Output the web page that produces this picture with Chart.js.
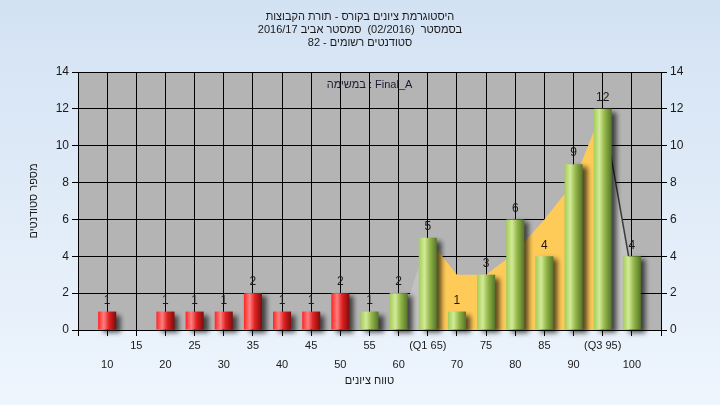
<!DOCTYPE html>
<html>
<head>
<meta charset="utf-8">
<script src="https://cdn.jsdelivr.net/npm/chart.js@4.4.1/dist/chart.umd.min.js"></script>
<style>
html,body{margin:0;padding:0;background:#e2edf8;}
#wrap{width:720px;height:405px;position:relative;}
</style>
</head>
<body>
<div id="wrap"><canvas id="c" width="720" height="405"></canvas></div>
<script>
// ---- data ----
const titleLines = [
  'היסטוגרמת ציונים בקורס - תורת הקבוצות',
  'בסמסטר  (02/2016)  סמסטר אביב 2016/17',
  'סטודנטים רשומים - 82'
];
const subTitle = 'במשימה : Final_A';
const xAxisTitle = 'טווח ציונים';
const yAxisTitle = 'מספר סטודנטים';

const categories = [10,15,20,25,30,35,40,45,50,55,60,65,70,75,80,85,90,95,100];
const counts     = [1, 0, 1, 1, 1, 2, 1, 1, 2, 1, 2, 5, 1, 3, 6, 4, 9, 12, 4];
const xTickLabels = ['10','15','20','25','30','35','40','45','50','55','60','(Q1 65)','70','75','80','85','90','(Q3 95)','100'];

const areaX = [60, 65, 70, 75, 80, 85, 90, 95, 100];
const areaY = [0, 5, 3, 3, 4.2, 6, 8, 12, 3];

const Q1 = 65, Q3 = 95, PASS = 55;
const X_MIN = 5, X_MAX = 105, X_STEP = 5;
const Y_MIN = 0, Y_MAX = 14, Y_STEP = 2;

// ---- styling ----
const FONT = 'Arial, "Liberation Sans", "DejaVu Sans", sans-serif';
const BAR_PCT = 0.62;
Chart.defaults.font.family = FONT;
Chart.defaults.color = '#1a1a1a';

function barGradient(c) {
  const chart = c.chart;
  const i = c.dataIndex;
  const pass = categories[i] >= PASS;
  const base = pass ? '#98bf50' : '#e82020';
  if (!chart.chartArea || c.type !== 'data') return base;
  const xs = chart.scales.x;
  const cx = xs.getPixelForValue(categories[i]);
  const w = Math.abs(xs.getPixelForValue(X_STEP) - xs.getPixelForValue(0)) * BAR_PCT;
  const g = chart.ctx.createLinearGradient(cx - w / 2, 0, cx + w / 2, 0);
  if (pass) {
    g.addColorStop(0, '#a4cc58');
    g.addColorStop(0.32, '#d2ea98');
    g.addColorStop(0.6, '#94b84a');
    g.addColorStop(1, '#56742a');
  } else {
    g.addColorStop(0, '#ff2424');
    g.addColorStop(0.32, '#ff8080');
    g.addColorStop(0.6, '#e02222');
    g.addColorStop(1, '#7e0c0c');
  }
  return g;
}

const bgPlugin = {
  id: 'bg',
  beforeDraw(chart) {
    const {ctx, width, height, chartArea: a} = chart;
    ctx.save();
    const g = ctx.createLinearGradient(0, 0, 0, height);
    g.addColorStop(0, '#d3e2f3');
    g.addColorStop(1, '#eef5fd');
    ctx.fillStyle = g;
    ctx.fillRect(0, 0, width, height);
    ctx.fillStyle = '#b4b4b4';
    ctx.fillRect(a.left, a.top, a.right - a.left, a.bottom - a.top);
    // titles
    ctx.fillStyle = '#1a1a1a';
    ctx.font = '11px ' + FONT;
    ctx.textAlign = 'center';
    ctx.textBaseline = 'middle';
    titleLines.forEach((t, k) => ctx.fillText(t, width / 2, 17 + k * 13));
    ctx.restore();
  },
  beforeDatasetsDraw(chart) {
    const {ctx, chartArea: a} = chart;
    ctx.save();
    ctx.fillStyle = '#1c1830';
    ctx.font = '11px ' + FONT;
    ctx.textAlign = 'center';
    ctx.textBaseline = 'middle';
    ctx.fillText(subTitle, (a.left + a.right) / 2, a.top + 13);
    ctx.restore();
  },
  beforeDatasetDraw(chart, args) {
    if (args.index === 1) {
      const ctx = chart.ctx;
      ctx.save();
      ctx.shadowColor = 'rgba(0,0,0,0.65)';
      ctx.shadowBlur = 5;
      ctx.shadowOffsetX = 5;
      ctx.shadowOffsetY = 3;
    }
  },
  afterDatasetDraw(chart, args) {
    if (args.index === 1) chart.ctx.restore();
  },
  afterDatasetsDraw(chart) {
    const {ctx} = chart;
    const meta = chart.getDatasetMeta(1);
    ctx.save();
    ctx.fillStyle = '#1a1a1a';
    ctx.font = '12px ' + FONT;
    ctx.textAlign = 'center';
    ctx.textBaseline = 'bottom';
    meta.data.forEach((el, i) => {
      if (counts[i] > 0) ctx.fillText(String(counts[i]), el.x, el.y - 5);
    });
    ctx.restore();
  }
};

const inIQR = (c) => c.p0.parsed.x >= Q1 && c.p1.parsed.x <= Q3;

new Chart(document.getElementById('c'), {
  type: 'bar',
  data: {
    datasets: [
      {
        type: 'line',
        data: areaX.map((x, i) => ({x, y: areaY[i]})),
        fill: 'origin',
        order: 2,
        pointRadius: 0,
        tension: 0,
        borderWidth: 1.5,
        borderColor: 'rgba(0,0,0,0)',
        backgroundColor: '#c4c4c4',
        segment: {
          backgroundColor: c => inIQR(c) ? '#ffcb58' : '#c2c2c2',
          borderColor: c => c.p0.parsed.x >= Q3 ? '#3a3a3a' : 'rgba(0,0,0,0)'
        }
      },
      {
        type: 'bar',
        data: categories.map((x, i) => ({x, y: counts[i]})),
        order: 1,
        clip: false,
        backgroundColor: barGradient,
        borderWidth: 0,
        categoryPercentage: 1,
        barPercentage: BAR_PCT
      }
    ]
  },
  options: {
    responsive: false,
    animation: false,
    devicePixelRatio: 1,
    layout: {padding: {top: 72, left: 0, right: 0, bottom: 0}},
    plugins: {legend: {display: false}, tooltip: {enabled: false}, title: {display: false}},
    scales: {
      x: {
        type: 'linear',
        min: X_MIN, max: X_MAX,
        offset: false,
        afterFit: s => { s.height = 75; },
        grid: {color: '#000', lineWidth: 1, tickLength: 6, offset: false, tickColor: '#000'},
        border: {color: '#000'},
        ticks: {
          stepSize: X_STEP,
          autoSkip: false,
          maxRotation: 0, minRotation: 0,
          padding: 1,
          font: {size: 11, lineHeight: 1.7},
          color: '#1a1a1a',
          callback: v => {
            const i = categories.indexOf(v);
            if (i < 0) return '';
            const lbl = xTickLabels[i];
            return (Math.round(v / X_STEP) % 2 === 0) ? ['', lbl] : [lbl, ''];
          }
        },
        title: {display: true, text: xAxisTitle, font: {size: 11}, color: '#1a1a1a', padding: {top: 0, bottom: 17}}
      },
      y: {
        position: 'left',
        min: Y_MIN, max: Y_MAX,
        afterFit: s => { s.width = 78; },
        grid: {color: '#000', lineWidth: 1, tickLength: 6, tickColor: '#000'},
        border: {color: '#000'},
        ticks: {stepSize: Y_STEP, padding: 3, font: {size: 12}, color: '#1a1a1a'},
        title: {display: true, text: yAxisTitle, font: {size: 11}, color: '#1a1a1a', padding: {top: 27, bottom: 0}}
      },
      y2: {
        position: 'right',
        min: Y_MIN, max: Y_MAX,
        afterFit: s => { s.width = 59; },
        grid: {drawOnChartArea: false, tickLength: 6, tickColor: '#000', color: '#000'},
        border: {color: '#000'},
        ticks: {stepSize: Y_STEP, padding: 3, font: {size: 12}, color: '#1a1a1a'}
      }
    }
  },
  plugins: [bgPlugin]
});
</script>
</body>
</html>
